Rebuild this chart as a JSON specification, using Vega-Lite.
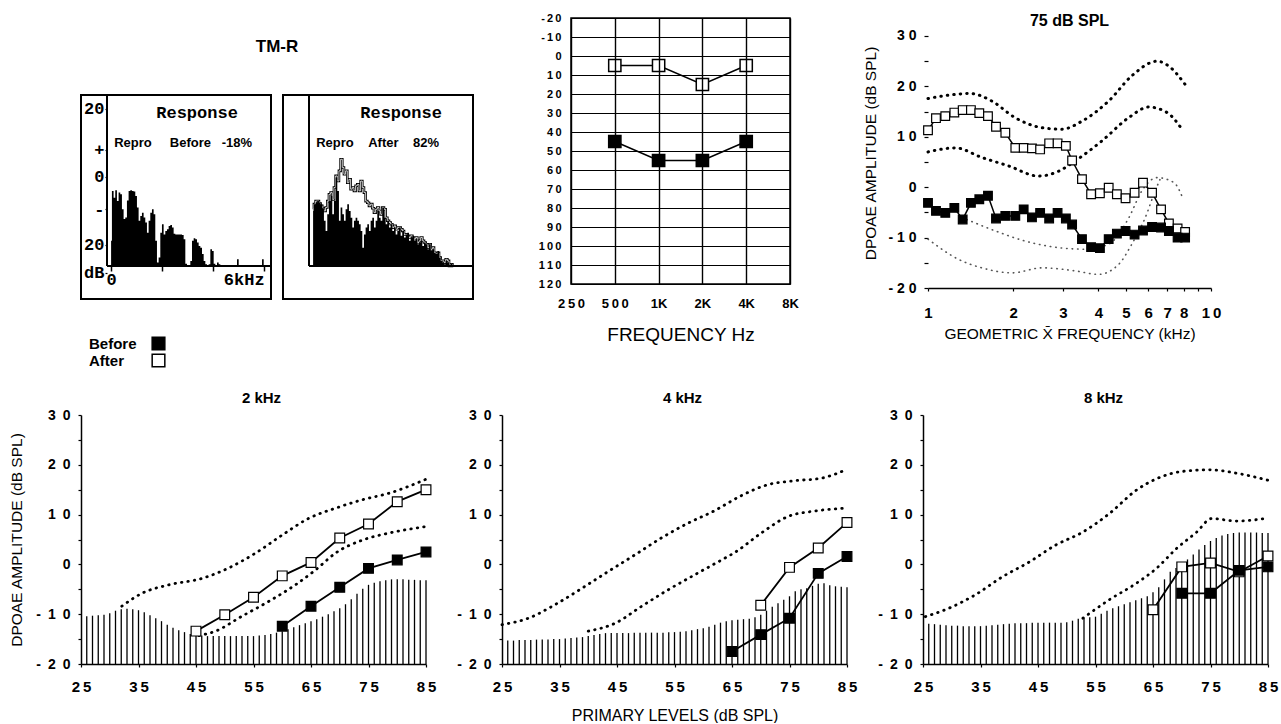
{
"$schema": "https://vega.github.io/schema/vega-lite/v6.json",
"background": "white",
"autosize": {"type": "pad"},
"padding": {"left": 9, "top": 11, "right": 2, "bottom": 0},
"config": {
 "font": "Liberation Sans",
 "view": {"stroke": null},
 "axis": {"labelFont": "Liberation Sans", "labelFontWeight": "bold", "labelColor": "black", "titleFont": "Liberation Sans", "titleFontWeight": "normal", "titleColor": "black", "domainColor": "black", "domainWidth": 1.5, "tickColor": "black", "tickWidth": 1.2, "grid": false, "labelFlush": false, "labelOverlap": false},
 "title": {"font": "Liberation Sans", "fontWeight": "bold", "color": "black", "anchor": "middle"},
 "legend": {"title": null, "orient": "none", "legendX": 70, "legendY": 318, "direction": "vertical", "symbolType": "square", "symbolSize": 160, "symbolStrokeColor": "black", "symbolStrokeWidth": 1.5, "labelOffset": -77, "labelAlign": "left", "labelFont": "Liberation Sans", "labelFontSize": 15, "labelFontWeight": "bold", "labelColor": "black", "rowPadding": -3, "padding": 0}
},
"datasets": {
 "histB": [
  {"f":0,"v":-18.8},{"f":0.065,"v":-4.1},{"f":0.131,"v":-6.1},{"f":0.196,"v":-3.9},{"f":0.262,"v":-7.1},{"f":0.327,"v":-4.6},{"f":0.392,"v":-5.1},{"f":0.458,"v":-9.5},{"f":0.523,"v":-12.4},{"f":0.589,"v":-11.9},{"f":0.654,"v":-6.9},{"f":0.719,"v":-4.1},{"f":0.785,"v":-3.9},{"f":0.85,"v":-4.1},{"f":0.916,"v":-4.3},{"f":0.981,"v":-5.6},{"f":1.046,"v":-9.0},{"f":1.112,"v":-12.9},{"f":1.177,"v":-11.5},{"f":1.243,"v":-10.5},{"f":1.308,"v":-11.9},{"f":1.373,"v":-13.4},{"f":1.439,"v":-16.4},{"f":1.504,"v":-12.9},{"f":1.57,"v":-10.5},{"f":1.635,"v":-9.5},{"f":1.7,"v":-11.0},{"f":1.766,"v":-18.8},{"f":1.831,"v":-25.2},{"f":1.897,"v":-23.7},{"f":1.962,"v":-16.4},{"f":2.027,"v":-13.9},{"f":2.093,"v":-16.9},{"f":2.158,"v":-15.9},{"f":2.224,"v":-15.4},{"f":2.289,"v":-14.4},{"f":2.354,"v":-14.1},{"f":2.42,"v":-14.9},{"f":2.485,"v":-16.7},{"f":2.551,"v":-16.9},{"f":2.616,"v":-16.9},{"f":2.681,"v":-16.9},{"f":2.747,"v":-16.9},{"f":2.812,"v":-17.1},{"f":2.878,"v":-18.3},{"f":2.943,"v":-25.5},{"f":3.008,"v":-25.9},{"f":3.074,"v":-25.9},{"f":3.139,"v":-24.7},{"f":3.205,"v":-18.8},{"f":3.27,"v":-18.0},{"f":3.335,"v":-18.3},{"f":3.401,"v":-19.3},{"f":3.466,"v":-20.3},{"f":3.532,"v":-20.8},{"f":3.597,"v":-22.7},{"f":3.662,"v":-24.7},{"f":3.728,"v":-25.7},{"f":3.793,"v":-25.9},{"f":3.859,"v":-25.7},{"f":3.924,"v":-21.3},{"f":3.989,"v":-21.8},{"f":4.055,"v":-25.5},{"f":4.12,"v":-25.9},{"f":4.186,"v":-25.2},{"f":4.251,"v":-25.7},{"f":4.316,"v":-26.2},{"f":4.905,"v":-26.2},{"f":4.97,"v":-24.2},{"f":5.036,"v":-26.2},{"f":5.886,"v":-26.2},{"f":5.951,"v":-24.2},{"f":6.016,"v":-26.2}
 ],
 "histA": [
  {"f":0,"n":-10.0,"r":-9.5},{"f":0.065,"n":-8.0,"r":-8.0},{"f":0.131,"n":-7.6,"r":-7.1},{"f":0.196,"n":-7.1,"r":-7.1},{"f":0.262,"n":-7.6,"r":-7.8},{"f":0.327,"n":-8.0,"r":-8.5},{"f":0.392,"n":-9.2,"r":-9.2},{"f":0.458,"n":-12.9,"r":-10.0},{"f":0.523,"n":-15.9,"r":-9.0},{"f":0.589,"n":-11.0,"r":-7.1},{"f":0.654,"n":-7.1,"r":-5.1},{"f":0.719,"n":-5.6,"r":-4.6},{"f":0.785,"n":-11.0,"r":-6.6},{"f":0.85,"n":-7.1,"r":-3.1},{"f":0.916,"n":-0.2,"r":0.3},{"f":0.981,"n":-4.1,"r":-1.2},{"f":1.046,"n":-12.9,"r":1.8},{"f":1.112,"n":-9.0,"r":5.2},{"f":1.177,"n":-11.0,"r":2.8},{"f":1.243,"n":-12.9,"r":0.8},{"f":1.308,"n":-9.5,"r":1.8},{"f":1.373,"n":-8.0,"r":-1.7},{"f":1.439,"n":-10.0,"r":-0.7},{"f":1.504,"n":-12.0,"r":-3.6},{"f":1.57,"n":-14.9,"r":-3.1},{"f":1.635,"n":-12.9,"r":-4.1},{"f":1.7,"n":-12.0,"r":-2.6},{"f":1.766,"n":-12.9,"r":-2.2},{"f":1.831,"n":-13.9,"r":-4.1},{"f":1.897,"n":-15.9,"r":-1.2},{"f":1.962,"n":-20.8,"r":-3.1},{"f":2.027,"n":-16.9,"r":-4.6},{"f":2.093,"n":-14.9,"r":-7.1},{"f":2.158,"n":-13.9,"r":-7.6},{"f":2.224,"n":-15.9,"r":-8.5},{"f":2.289,"n":-12.9,"r":-8.0},{"f":2.354,"n":-12.0,"r":-9.2},{"f":2.42,"n":-14.9,"r":-10.5},{"f":2.485,"n":-12.9,"r":-9.5},{"f":2.551,"n":-10.0,"r":-9.0},{"f":2.616,"n":-12.0,"r":-10.0},{"f":2.681,"n":-12.9,"r":-11.0},{"f":2.747,"n":-9.0,"r":-9.0},{"f":2.812,"n":-12.0,"r":-9.5},{"f":2.878,"n":-13.9,"r":-12.0},{"f":2.943,"n":-12.9,"r":-12.9},{"f":3.008,"n":-14.9,"r":-13.4},{"f":3.074,"n":-13.9,"r":-13.9},{"f":3.139,"n":-15.9,"r":-14.9},{"f":3.205,"n":-14.9,"r":-14.4},{"f":3.27,"n":-16.9,"r":-15.4},{"f":3.335,"n":-15.9,"r":-14.9},{"f":3.401,"n":-14.9,"r":-14.9},{"f":3.466,"n":-17.3,"r":-15.4},{"f":3.532,"n":-15.9,"r":-15.9},{"f":3.597,"n":-17.8,"r":-16.9},{"f":3.662,"n":-16.9,"r":-16.9},{"f":3.728,"n":-16.4,"r":-17.3},{"f":3.793,"n":-18.8,"r":-17.8},{"f":3.859,"n":-17.8,"r":-17.3},{"f":3.924,"n":-17.3,"r":-17.8},{"f":3.989,"n":-18.8,"r":-18.3},{"f":4.055,"n":-18.3,"r":-17.8},{"f":4.12,"n":-19.8,"r":-19.3},{"f":4.186,"n":-19.3,"r":-18.8},{"f":4.251,"n":-18.8,"r":-17.8},{"f":4.316,"n":-20.3,"r":-18.8},{"f":4.382,"n":-19.3,"r":-19.3},{"f":4.447,"n":-19.8,"r":-19.8},{"f":4.513,"n":-21.3,"r":-20.8},{"f":4.578,"n":-19.8,"r":-19.8},{"f":4.643,"n":-21.8,"r":-21.3},{"f":4.709,"n":-21.3,"r":-20.8},{"f":4.774,"n":-22.3,"r":-22.3},{"f":4.84,"n":-22.7,"r":-22.7},{"f":4.905,"n":-21.8,"r":-22.3},{"f":4.97,"n":-23.7,"r":-23.7},{"f":5.036,"n":-24.7,"r":-24.7},{"f":5.101,"n":-25.2,"r":-24.7},{"f":5.167,"n":-25.7,"r":-25.2},{"f":5.232,"n":-24.7,"r":-24.2},{"f":5.297,"n":-25.2,"r":-24.7},{"f":5.363,"n":-25.9,"r":-26.2},{"f":5.428,"n":-25.5,"r":-25.7},{"f":5.494,"n":-26.2,"r":-26.2}
 ],
 "audio": [
  {"hz":500,"v":5,"k":"After"},{"hz":1000,"v":5,"k":"After"},{"hz":2000,"v":15,"k":"After"},{"hz":4000,"v":5,"k":"After"},
  {"hz":500,"v":45,"k":"Before"},{"hz":1000,"v":55,"k":"Before"},{"hz":2000,"v":55,"k":"Before"},{"hz":4000,"v":45,"k":"Before"}
 ],
 "dp": [
  {"k":"After","f":1.0,"v":11.3},{"k":"After","f":1.067,"v":13.7},{"k":"After","f":1.151,"v":14.1},{"k":"After","f":1.239,"v":14.8},{"k":"After","f":1.326,"v":15.3},{"k":"After","f":1.418,"v":15.3},{"k":"After","f":1.518,"v":14.7},{"k":"After","f":1.629,"v":14.1},{"k":"After","f":1.739,"v":12.0},{"k":"After","f":1.876,"v":10.8},{"k":"After","f":2.035,"v":7.8},{"k":"After","f":2.178,"v":7.8},{"k":"After","f":2.33,"v":7.7},{"k":"After","f":2.49,"v":7.5},{"k":"After","f":2.68,"v":8.7},{"k":"After","f":2.87,"v":8.7},{"k":"After","f":3.07,"v":8.2},{"k":"After","f":3.23,"v":5.3},{"k":"After","f":3.5,"v":1.6},{"k":"After","f":3.77,"v":-1.4},{"k":"After","f":4.05,"v":-1.2},{"k":"After","f":4.35,"v":-0.1},{"k":"After","f":4.65,"v":-1.4},{"k":"After","f":4.99,"v":-2.2},{"k":"After","f":5.37,"v":-1.1},{"k":"After","f":5.75,"v":0.9},{"k":"After","f":6.19,"v":-1.1},{"k":"After","f":6.66,"v":-4.4},{"k":"After","f":7.1,"v":-7.2},{"k":"After","f":7.62,"v":-8.2},{"k":"After","f":8.1,"v":-8.9},
  {"k":"Before","f":1.0,"v":-3.1},{"k":"Before","f":1.067,"v":-4.7},{"k":"Before","f":1.151,"v":-5.1},{"k":"Before","f":1.239,"v":-4.1},{"k":"Before","f":1.326,"v":-6.4},{"k":"Before","f":1.418,"v":-3.1},{"k":"Before","f":1.518,"v":-2.4},{"k":"Before","f":1.629,"v":-1.7},{"k":"Before","f":1.739,"v":-6.2},{"k":"Before","f":1.876,"v":-5.7},{"k":"Before","f":2.035,"v":-5.7},{"k":"Before","f":2.178,"v":-4.4},{"k":"Before","f":2.33,"v":-6.0},{"k":"Before","f":2.49,"v":-5.1},{"k":"Before","f":2.68,"v":-6.2},{"k":"Before","f":2.87,"v":-5.1},{"k":"Before","f":3.07,"v":-6.2},{"k":"Before","f":3.23,"v":-7.4},{"k":"Before","f":3.5,"v":-10.3},{"k":"Before","f":3.77,"v":-11.9},{"k":"Before","f":4.05,"v":-12.1},{"k":"Before","f":4.35,"v":-10.3},{"k":"Before","f":4.65,"v":-9.2},{"k":"Before","f":4.99,"v":-8.7},{"k":"Before","f":5.37,"v":-9.4},{"k":"Before","f":5.75,"v":-8.6},{"k":"Before","f":6.19,"v":-7.9},{"k":"Before","f":6.66,"v":-8.0},{"k":"Before","f":7.1,"v":-8.7},{"k":"Before","f":7.62,"v":-10.0},{"k":"Before","f":8.1,"v":-10.0},
  {"k":"hi","f":1.0,"v":17.6},{"k":"hi","f":1.2,"v":18.3},{"k":"hi","f":1.41,"v":18.6},{"k":"hi","f":1.68,"v":17.1},{"k":"hi","f":2.03,"v":13.8},{"k":"hi","f":2.53,"v":11.8},{"k":"hi","f":2.97,"v":11.5},{"k":"hi","f":3.5,"v":13.1},{"k":"hi","f":4.35,"v":17.1},{"k":"hi","f":5.25,"v":22.1},{"k":"hi","f":6.45,"v":25.0},{"k":"hi","f":7.1,"v":24.0},{"k":"hi","f":8.1,"v":20.4},
  {"k":"lo","f":1.0,"v":7.0},{"k":"lo","f":1.25,"v":7.8},{"k":"lo","f":1.55,"v":5.9},{"k":"lo","f":1.93,"v":4.2},{"k":"lo","f":2.46,"v":2.2},{"k":"lo","f":2.9,"v":3.2},{"k":"lo","f":3.31,"v":5.2},{"k":"lo","f":4.12,"v":9.2},{"k":"lo","f":5.12,"v":13.8},{"k":"lo","f":6.02,"v":15.9},{"k":"lo","f":7.0,"v":14.8},{"k":"lo","f":7.9,"v":11.5},
  {"k":"nf1","f":1.37,"v":-6.4},{"k":"nf1","f":1.68,"v":-8.4},{"k":"nf1","f":2.21,"v":-10.7},{"k":"nf1","f":2.9,"v":-12.0},{"k":"nf1","f":3.59,"v":-12.3},{"k":"nf1","f":4.35,"v":-11.3},{"k":"nf1","f":5.12,"v":-6.1},{"k":"nf1","f":5.7,"v":-0.7},{"k":"nf1","f":6.45,"v":1.9},{"k":"nf1","f":7.4,"v":0.9},{"k":"nf1","f":7.98,"v":-2.4},
  {"k":"nf2","f":1.0,"v":-10.3},{"k":"nf2","f":1.28,"v":-14.3},{"k":"nf2","f":1.55,"v":-16.0},{"k":"nf2","f":1.98,"v":-17.0},{"k":"nf2","f":2.53,"v":-16.0},{"k":"nf2","f":3.31,"v":-16.6},{"k":"nf2","f":4.0,"v":-17.3},{"k":"nf2","f":4.72,"v":-15.3},{"k":"nf2","f":5.25,"v":-11.3},{"k":"nf2","f":5.85,"v":-6.1},{"k":"nf2","f":6.35,"v":-0.7},{"k":"nf2","f":6.6,"v":1.5}
 ],
 "grow": [
  {"p":"2","k":"nf","L":26,"v":-10.4},{"p":"2","k":"nf","L":27,"v":-10.3},{"p":"2","k":"nf","L":28,"v":-10.2},{"p":"2","k":"nf","L":29,"v":-10.1},{"p":"2","k":"nf","L":30,"v":-9.8},{"p":"2","k":"nf","L":31,"v":-9.3},{"p":"2","k":"nf","L":32,"v":-9.0},{"p":"2","k":"nf","L":33,"v":-8.9},{"p":"2","k":"nf","L":34,"v":-9.0},{"p":"2","k":"nf","L":35,"v":-9.2},{"p":"2","k":"nf","L":36,"v":-9.6},{"p":"2","k":"nf","L":37,"v":-10.2},{"p":"2","k":"nf","L":38,"v":-10.8},{"p":"2","k":"nf","L":39,"v":-11.4},{"p":"2","k":"nf","L":40,"v":-12.1},{"p":"2","k":"nf","L":41,"v":-12.7},{"p":"2","k":"nf","L":42,"v":-13.2},{"p":"2","k":"nf","L":43,"v":-13.6},{"p":"2","k":"nf","L":44,"v":-14.0},{"p":"2","k":"nf","L":45,"v":-14.2},{"p":"2","k":"nf","L":46,"v":-14.3},{"p":"2","k":"nf","L":47,"v":-14.4},{"p":"2","k":"nf","L":48,"v":-14.4},{"p":"2","k":"nf","L":49,"v":-14.4},{"p":"2","k":"nf","L":50,"v":-14.4},{"p":"2","k":"nf","L":51,"v":-14.4},{"p":"2","k":"nf","L":52,"v":-14.4},{"p":"2","k":"nf","L":53,"v":-14.4},{"p":"2","k":"nf","L":54,"v":-14.4},{"p":"2","k":"nf","L":55,"v":-14.4},{"p":"2","k":"nf","L":56,"v":-14.3},{"p":"2","k":"nf","L":57,"v":-14.2},{"p":"2","k":"nf","L":58,"v":-14.0},{"p":"2","k":"nf","L":59,"v":-13.7},{"p":"2","k":"nf","L":60,"v":-13.4},{"p":"2","k":"nf","L":61,"v":-13.0},{"p":"2","k":"nf","L":62,"v":-12.6},{"p":"2","k":"nf","L":63,"v":-12.2},{"p":"2","k":"nf","L":64,"v":-11.8},{"p":"2","k":"nf","L":65,"v":-11.4},{"p":"2","k":"nf","L":66,"v":-11.0},{"p":"2","k":"nf","L":67,"v":-10.5},{"p":"2","k":"nf","L":68,"v":-10.0},{"p":"2","k":"nf","L":69,"v":-9.4},{"p":"2","k":"nf","L":70,"v":-8.8},{"p":"2","k":"nf","L":71,"v":-8.0},{"p":"2","k":"nf","L":72,"v":-7.0},{"p":"2","k":"nf","L":73,"v":-5.9},{"p":"2","k":"nf","L":74,"v":-4.9},{"p":"2","k":"nf","L":75,"v":-4.1},{"p":"2","k":"nf","L":76,"v":-3.7},{"p":"2","k":"nf","L":77,"v":-3.4},{"p":"2","k":"nf","L":78,"v":-3.2},{"p":"2","k":"nf","L":79,"v":-3.0},{"p":"2","k":"nf","L":80,"v":-3.0},{"p":"2","k":"nf","L":81,"v":-3.0},{"p":"2","k":"nf","L":82,"v":-3.1},{"p":"2","k":"nf","L":83,"v":-3.1},{"p":"2","k":"nf","L":84,"v":-3.2},{"p":"2","k":"nf","L":85,"v":-3.2},
  {"p":"2","k":"hi","L":32.1,"v":-8.4},{"p":"2","k":"hi","L":35.6,"v":-5.8},{"p":"2","k":"hi","L":40.3,"v":-4.1},{"p":"2","k":"hi","L":46.1,"v":-2.8},{"p":"2","k":"hi","L":50.7,"v":-0.7},{"p":"2","k":"hi","L":55.4,"v":2.3},{"p":"2","k":"hi","L":60,"v":5.9},{"p":"2","k":"hi","L":64.7,"v":9.3},{"p":"2","k":"hi","L":69.3,"v":11.3},{"p":"2","k":"hi","L":74,"v":13.0},{"p":"2","k":"hi","L":78.6,"v":14.3},{"p":"2","k":"hi","L":85,"v":17.1},
  {"p":"2","k":"lo","L":45.5,"v":-14.3},{"p":"2","k":"lo","L":48.4,"v":-13.4},{"p":"2","k":"lo","L":53,"v":-10.4},{"p":"2","k":"lo","L":57.7,"v":-7.4},{"p":"2","k":"lo","L":62.3,"v":-4.1},{"p":"2","k":"lo","L":65.8,"v":-1.1},{"p":"2","k":"lo","L":69.3,"v":2.3},{"p":"2","k":"lo","L":74,"v":4.9},{"p":"2","k":"lo","L":78.6,"v":6.3},{"p":"2","k":"lo","L":85,"v":7.6},
  {"p":"2","k":"After","L":45,"v":-13.4},{"p":"2","k":"After","L":50,"v":-10.1},{"p":"2","k":"After","L":55,"v":-6.6},{"p":"2","k":"After","L":60,"v":-2.3},{"p":"2","k":"After","L":65,"v":0.4},{"p":"2","k":"After","L":70,"v":5.3},{"p":"2","k":"After","L":75,"v":8.1},{"p":"2","k":"After","L":80,"v":12.6},{"p":"2","k":"After","L":85,"v":15.0},
  {"p":"2","k":"Before","L":60,"v":-12.4},{"p":"2","k":"Before","L":65,"v":-8.4},{"p":"2","k":"Before","L":70,"v":-4.6},{"p":"2","k":"Before","L":75,"v":-0.8},{"p":"2","k":"Before","L":80,"v":0.9},{"p":"2","k":"Before","L":85,"v":2.5},
  {"p":"4","k":"nf","L":26,"v":-15.3},{"p":"4","k":"nf","L":27,"v":-15.3},{"p":"4","k":"nf","L":28,"v":-15.2},{"p":"4","k":"nf","L":29,"v":-15.2},{"p":"4","k":"nf","L":30,"v":-15.2},{"p":"4","k":"nf","L":31,"v":-15.1},{"p":"4","k":"nf","L":32,"v":-15.1},{"p":"4","k":"nf","L":33,"v":-15.1},{"p":"4","k":"nf","L":34,"v":-15.0},{"p":"4","k":"nf","L":35,"v":-15.0},{"p":"4","k":"nf","L":36,"v":-14.9},{"p":"4","k":"nf","L":37,"v":-14.8},{"p":"4","k":"nf","L":38,"v":-14.7},{"p":"4","k":"nf","L":39,"v":-14.6},{"p":"4","k":"nf","L":40,"v":-14.4},{"p":"4","k":"nf","L":41,"v":-14.2},{"p":"4","k":"nf","L":42,"v":-14.0},{"p":"4","k":"nf","L":43,"v":-13.8},{"p":"4","k":"nf","L":44,"v":-13.8},{"p":"4","k":"nf","L":45,"v":-13.8},{"p":"4","k":"nf","L":46,"v":-13.8},{"p":"4","k":"nf","L":47,"v":-13.8},{"p":"4","k":"nf","L":48,"v":-13.7},{"p":"4","k":"nf","L":49,"v":-13.7},{"p":"4","k":"nf","L":50,"v":-13.7},{"p":"4","k":"nf","L":51,"v":-13.7},{"p":"4","k":"nf","L":52,"v":-13.7},{"p":"4","k":"nf","L":53,"v":-13.7},{"p":"4","k":"nf","L":54,"v":-13.6},{"p":"4","k":"nf","L":55,"v":-13.6},{"p":"4","k":"nf","L":56,"v":-13.5},{"p":"4","k":"nf","L":57,"v":-13.4},{"p":"4","k":"nf","L":58,"v":-13.2},{"p":"4","k":"nf","L":59,"v":-13.0},{"p":"4","k":"nf","L":60,"v":-12.8},{"p":"4","k":"nf","L":61,"v":-12.5},{"p":"4","k":"nf","L":62,"v":-12.1},{"p":"4","k":"nf","L":63,"v":-11.7},{"p":"4","k":"nf","L":64,"v":-11.4},{"p":"4","k":"nf","L":65,"v":-11.2},{"p":"4","k":"nf","L":66,"v":-11.1},{"p":"4","k":"nf","L":67,"v":-11.0},{"p":"4","k":"nf","L":68,"v":-10.9},{"p":"4","k":"nf","L":69,"v":-10.6},{"p":"4","k":"nf","L":70,"v":-10.1},{"p":"4","k":"nf","L":71,"v":-9.3},{"p":"4","k":"nf","L":72,"v":-8.5},{"p":"4","k":"nf","L":73,"v":-7.8},{"p":"4","k":"nf","L":74,"v":-7.1},{"p":"4","k":"nf","L":75,"v":-6.4},{"p":"4","k":"nf","L":76,"v":-5.4},{"p":"4","k":"nf","L":77,"v":-5.0},{"p":"4","k":"nf","L":78,"v":-4.8},{"p":"4","k":"nf","L":79,"v":-4.3},{"p":"4","k":"nf","L":80,"v":-3.9},{"p":"4","k":"nf","L":81,"v":-3.8},{"p":"4","k":"nf","L":82,"v":-4.2},{"p":"4","k":"nf","L":83,"v":-4.4},{"p":"4","k":"nf","L":84,"v":-4.5},{"p":"4","k":"nf","L":85,"v":-4.6},
  {"p":"4","k":"hi","L":25,"v":-12.1},{"p":"4","k":"hi","L":29.6,"v":-10.8},{"p":"4","k":"hi","L":34.2,"v":-8.1},{"p":"4","k":"hi","L":38.9,"v":-4.8},{"p":"4","k":"hi","L":43.5,"v":-1.4},{"p":"4","k":"hi","L":48.1,"v":1.9},{"p":"4","k":"hi","L":52.7,"v":5.3},{"p":"4","k":"hi","L":57.4,"v":8.3},{"p":"4","k":"hi","L":62,"v":10.8},{"p":"4","k":"hi","L":66.6,"v":13.8},{"p":"4","k":"hi","L":71.2,"v":16.0},{"p":"4","k":"hi","L":75.9,"v":16.8},{"p":"4","k":"hi","L":80.5,"v":17.3},{"p":"4","k":"hi","L":85,"v":19.1},
  {"p":"4","k":"lo","L":40,"v":-13.4},{"p":"4","k":"lo","L":44.7,"v":-11.8},{"p":"4","k":"lo","L":49.3,"v":-8.4},{"p":"4","k":"lo","L":53.9,"v":-5.1},{"p":"4","k":"lo","L":58.5,"v":-2.1},{"p":"4","k":"lo","L":63.2,"v":0.9},{"p":"4","k":"lo","L":65.5,"v":2.4},{"p":"4","k":"lo","L":70.1,"v":6.3},{"p":"4","k":"lo","L":74.7,"v":9.6},{"p":"4","k":"lo","L":79.3,"v":10.7},{"p":"4","k":"lo","L":85,"v":11.3},
  {"p":"4","k":"After","L":70,"v":-8.2},{"p":"4","k":"After","L":75,"v":-0.6},{"p":"4","k":"After","L":80,"v":3.3},{"p":"4","k":"After","L":85,"v":8.4},
  {"p":"4","k":"Before","L":65,"v":-17.5},{"p":"4","k":"Before","L":70,"v":-14.1},{"p":"4","k":"Before","L":75,"v":-10.8},{"p":"4","k":"Before","L":80,"v":-1.8},{"p":"4","k":"Before","L":85,"v":1.6},
  {"p":"8","k":"nf","L":26,"v":-11.9},{"p":"8","k":"nf","L":27,"v":-12.0},{"p":"8","k":"nf","L":28,"v":-12.1},{"p":"8","k":"nf","L":29,"v":-12.2},{"p":"8","k":"nf","L":30,"v":-12.3},{"p":"8","k":"nf","L":31,"v":-12.3},{"p":"8","k":"nf","L":32,"v":-12.4},{"p":"8","k":"nf","L":33,"v":-12.4},{"p":"8","k":"nf","L":34,"v":-12.4},{"p":"8","k":"nf","L":35,"v":-12.4},{"p":"8","k":"nf","L":36,"v":-12.3},{"p":"8","k":"nf","L":37,"v":-12.2},{"p":"8","k":"nf","L":38,"v":-12.1},{"p":"8","k":"nf","L":39,"v":-12.0},{"p":"8","k":"nf","L":40,"v":-11.9},{"p":"8","k":"nf","L":41,"v":-11.8},{"p":"8","k":"nf","L":42,"v":-11.8},{"p":"8","k":"nf","L":43,"v":-11.8},{"p":"8","k":"nf","L":44,"v":-11.7},{"p":"8","k":"nf","L":45,"v":-11.7},{"p":"8","k":"nf","L":46,"v":-11.7},{"p":"8","k":"nf","L":47,"v":-11.7},{"p":"8","k":"nf","L":48,"v":-11.7},{"p":"8","k":"nf","L":49,"v":-11.7},{"p":"8","k":"nf","L":50,"v":-11.6},{"p":"8","k":"nf","L":51,"v":-11.3},{"p":"8","k":"nf","L":52,"v":-10.9},{"p":"8","k":"nf","L":53,"v":-10.7},{"p":"8","k":"nf","L":54,"v":-10.6},{"p":"8","k":"nf","L":55,"v":-10.5},{"p":"8","k":"nf","L":56,"v":-9.9},{"p":"8","k":"nf","L":57,"v":-9.3},{"p":"8","k":"nf","L":58,"v":-8.8},{"p":"8","k":"nf","L":59,"v":-8.4},{"p":"8","k":"nf","L":60,"v":-8.0},{"p":"8","k":"nf","L":61,"v":-7.6},{"p":"8","k":"nf","L":62,"v":-7.2},{"p":"8","k":"nf","L":63,"v":-6.8},{"p":"8","k":"nf","L":64,"v":-6.4},{"p":"8","k":"nf","L":65,"v":-5.6},{"p":"8","k":"nf","L":66,"v":-4.6},{"p":"8","k":"nf","L":67,"v":-3.0},{"p":"8","k":"nf","L":68,"v":-1.5},{"p":"8","k":"nf","L":69,"v":-0.7},{"p":"8","k":"nf","L":70,"v":0.0},{"p":"8","k":"nf","L":71,"v":1.0},{"p":"8","k":"nf","L":72,"v":2.0},{"p":"8","k":"nf","L":73,"v":3.0},{"p":"8","k":"nf","L":74,"v":3.9},{"p":"8","k":"nf","L":75,"v":4.7},{"p":"8","k":"nf","L":76,"v":5.3},{"p":"8","k":"nf","L":77,"v":5.8},{"p":"8","k":"nf","L":78,"v":6.1},{"p":"8","k":"nf","L":79,"v":6.3},{"p":"8","k":"nf","L":80,"v":6.4},{"p":"8","k":"nf","L":81,"v":6.4},{"p":"8","k":"nf","L":82,"v":6.4},{"p":"8","k":"nf","L":83,"v":6.4},{"p":"8","k":"nf","L":84,"v":6.3},{"p":"8","k":"nf","L":85,"v":6.3},
  {"p":"8","k":"hi","L":25.4,"v":-10.5},{"p":"8","k":"hi","L":29.5,"v":-8.8},{"p":"8","k":"hi","L":34.1,"v":-6.1},{"p":"8","k":"hi","L":38.8,"v":-2.5},{"p":"8","k":"hi","L":43.5,"v":0.5},{"p":"8","k":"hi","L":48.1,"v":3.9},{"p":"8","k":"hi","L":52.8,"v":6.5},{"p":"8","k":"hi","L":57.4,"v":10.2},{"p":"8","k":"hi","L":62.1,"v":14.9},{"p":"8","k":"hi","L":65.6,"v":17.2},{"p":"8","k":"hi","L":70.3,"v":18.7},{"p":"8","k":"hi","L":74.9,"v":19.0},{"p":"8","k":"hi","L":79.6,"v":18.3},{"p":"8","k":"hi","L":85,"v":16.9},
  {"p":"8","k":"lo","L":52.8,"v":-10.8},{"p":"8","k":"lo","L":57.4,"v":-7.1},{"p":"8","k":"lo","L":62.1,"v":-3.8},{"p":"8","k":"lo","L":65.6,"v":-0.8},{"p":"8","k":"lo","L":69.1,"v":3.2},{"p":"8","k":"lo","L":72.6,"v":6.5},{"p":"8","k":"lo","L":75.2,"v":9.2},{"p":"8","k":"lo","L":79.6,"v":8.7},{"p":"8","k":"lo","L":85,"v":9.3},
  {"p":"8","k":"After","L":65,"v":-9.1},{"p":"8","k":"After","L":70,"v":-0.5},{"p":"8","k":"After","L":75,"v":0.3},{"p":"8","k":"After","L":80,"v":-1.5},{"p":"8","k":"After","L":85,"v":1.7},
  {"p":"8","k":"Before","L":70,"v":-5.8},{"p":"8","k":"Before","L":75,"v":-5.8},{"p":"8","k":"Before","L":80,"v":-1.2},{"p":"8","k":"Before","L":85,"v":-0.5}
 ]
},
"spacing": 46,
"vconcat": [
 {"spacing": 63, "hconcat": [
  {"title": {"text": "TM-R", "fontSize": 17, "offset": -38},
   "spacing": 10,
   "hconcat": [
    {"width": 190, "height": 281,
     "data": {"name": "histB"},
     "layer": [
      {"mark": {"type": "area", "interpolate": "step", "color": "black"},
       "encoding": {
        "x": {"field": "f", "type": "quantitative", "scale": {"domain": [-1.18, 6.27], "nice": false, "zero": false},
              "axis": {"orient": "bottom", "offset": -33, "values": [0,0.5,1,1.5,2,2.5,3,3.5,4,4.5,5,5.5,6], "labelExpr": "datum.value==0?'0':datum.value==6?'6kHz':''", "domain": false, "tickSize": 5, "tickWidth": 1.5, "labelPadding": 0, "labelFont": "Liberation Mono", "labelFontSize": 17, "labelFontWeight": "bold", "labelAlign": {"condition": {"test": "datum.value==6", "value": "right"}, "value": "center"}, "title": null}},
        "y": {"field": "v", "type": "quantitative", "scale": {"domain": [-35.9, 46.75], "nice": false, "zero": false},
              "axis": {"orient": "left", "offset": -26, "values": [20, 8, 0, -9.5, -20, -28.2], "labelExpr": "datum.value==8?'+':datum.value==-9.5?'-':datum.value==-28.2?'dB':datum.value==0?'0':'20'", "domain": false, "tickSize": 2, "labelPadding": 1, "labelFont": "Liberation Mono", "labelFontSize": 17, "labelFontWeight": "bold", "labelBaseline": "middle", "title": null}},
        "y2": {"datum": -26.2}}},
      {"data": {"values": [{}]}, "mark": {"type": "rect", "filled": false, "color": "black", "strokeWidth": 2}, "encoding": {"x": {"datum": -1.18}, "x2": {"datum": 6.27}, "y": {"datum": 24.1}, "y2": {"datum": -35.9}}},
      {"data": {"values": [{}]}, "mark": {"type": "rule", "color": "black", "strokeWidth": 2}, "encoding": {"x": {"datum": -0.16}, "y": {"datum": 24.1}, "y2": {"datum": -26.2}}},
      {"data": {"values": [{}]}, "mark": {"type": "rule", "color": "black", "strokeWidth": 2}, "encoding": {"x": {"datum": -0.16}, "x2": {"datum": 6.27}, "y": {"datum": -26.2}}},
      {"data": {"values": [{}]}, "mark": {"type": "text", "text": "Response", "font": "Liberation Mono", "fontSize": 17, "fontWeight": "bold", "align": "center", "baseline": "middle", "color": "black"}, "encoding": {"x": {"datum": 3.37}, "y": {"datum": 18.8}}},
      {"data": {"values": [{}]}, "mark": {"type": "text", "text": "Repro\u00a0\u00a0\u00a0\u00a0\u00a0Before\u00a0\u00a0\u00a0-18%", "fontSize": 13, "fontWeight": "bold", "align": "left", "baseline": "middle", "color": "black"}, "encoding": {"x": {"datum": 0.12}, "y": {"datum": 10}}}
     ]},
    {"width": 190, "height": 281,
     "data": {"name": "histA"},
     "layer": [
      {"mark": {"type": "line", "interpolate": "step", "color": "black", "strokeWidth": 2.6},
       "encoding": {
        "x": {"field": "f", "type": "quantitative", "scale": {"domain": [-1.18, 6.27], "nice": false, "zero": false},
              "axis": {"orient": "bottom", "offset": -33, "values": [0,0.5,1,1.5,2,2.5,3,3.5,4,4.5,5,5.5,6], "labelExpr": "datum.value==0?'0':datum.value==6?'6kHz':''", "domain": false, "tickSize": 5, "tickWidth": 1.5, "labelPadding": 0, "labelFont": "Liberation Mono", "labelFontSize": 17, "labelFontWeight": "bold", "labelAlign": {"condition": {"test": "datum.value==6", "value": "right"}, "value": "center"}, "title": null}},
        "y": {"field": "r", "type": "quantitative", "scale": {"domain": [-35.9, 46.75], "nice": false, "zero": false},
              "axis": {"orient": "left", "offset": -26, "values": [20, 8, 0, -9.5, -20, -28.2], "labelExpr": "datum.value==8?'+':datum.value==-9.5?'-':datum.value==-28.2?'dB':datum.value==0?'0':'20'", "domain": false, "tickSize": 2, "labelPadding": 1, "labelFont": "Liberation Mono", "labelFontSize": 17, "labelFontWeight": "bold", "labelBaseline": "middle", "title": null}}}},
      {"mark": {"type": "line", "interpolate": "step", "color": "white", "strokeWidth": 0.8},
       "encoding": {"x": {"field": "f", "type": "quantitative", "axis": null}, "y": {"field": "r", "type": "quantitative", "axis": null}}},
      {"mark": {"type": "area", "interpolate": "step", "color": "black"},
       "encoding": {"x": {"field": "f", "type": "quantitative", "axis": null}, "y": {"field": "n", "type": "quantitative", "axis": null}, "y2": {"datum": -26.2}}},
      {"data": {"values": [{}]}, "mark": {"type": "rect", "filled": false, "color": "black", "strokeWidth": 2}, "encoding": {"x": {"datum": -1.18}, "x2": {"datum": 6.27}, "y": {"datum": 24.1}, "y2": {"datum": -35.9}}},
      {"data": {"values": [{}]}, "mark": {"type": "rule", "color": "black", "strokeWidth": 2}, "encoding": {"x": {"datum": -0.16}, "y": {"datum": 24.1}, "y2": {"datum": -26.2}}},
      {"data": {"values": [{}]}, "mark": {"type": "rule", "color": "black", "strokeWidth": 2}, "encoding": {"x": {"datum": -0.16}, "x2": {"datum": 6.27}, "y": {"datum": -26.2}}},
      {"data": {"values": [{}]}, "mark": {"type": "text", "text": "Response", "font": "Liberation Mono", "fontSize": 17, "fontWeight": "bold", "align": "center", "baseline": "middle", "color": "black"}, "encoding": {"x": {"datum": 3.45}, "y": {"datum": 18.8}}},
      {"data": {"values": [{}]}, "mark": {"type": "text", "text": "Repro\u00a0\u00a0\u00a0\u00a0After\u00a0\u00a0\u00a0\u00a082%", "fontSize": 13, "fontWeight": "bold", "align": "left", "baseline": "middle", "color": "black"}, "encoding": {"x": {"datum": 0.12}, "y": {"datum": 10}}}
     ]}
   ]},
  {"width": 219, "height": 266,
   "view": {"stroke": "black", "strokeWidth": 1.5},
   "data": {"name": "audio"},
   "encoding": {
    "x": {"field": "hz", "type": "quantitative", "scale": {"type": "log", "base": 2, "domain": [250, 8000], "nice": false},
          "axis": {"values": [250,500,1000,2000,4000,8000], "grid": true, "gridColor": "black", "gridWidth": 1.4, "ticks": false, "domain": false, "labelPadding": 13, "labelFontSize": 13, "labelExpr": "datum.value>=1000?(datum.value/1000)+'K':join(split(''+datum.value,''),'\u2009')", "title": "FREQUENCY Hz", "titleFontSize": 19, "titlePadding": 15, "zindex": 1}},
    "y": {"field": "v", "type": "quantitative", "scale": {"domain": [-20, 120], "reverse": true, "nice": false, "zero": false},
          "axis": {"values": [-20,-10,0,10,20,30,40,50,60,70,80,90,100,110,120], "grid": true, "gridColor": "black", "gridWidth": 1, "ticks": false, "domain": false, "labelPadding": 10, "labelFontSize": 11, "labelExpr": "join(split((datum.value<0?'-':'')+abs(datum.value),''),'\u2009')", "title": null, "zindex": 1}}
   },
   "layer": [
    {"data": {"values": [{}]}, "mark": {"type": "rect", "color": "#c3c3c3"}, "encoding": {"x": {"datum": 250}, "x2": {"datum": 8000}, "y": {"datum": -10}, "y2": {"datum": 10}}},
    {"mark": {"type": "line", "color": "black", "strokeWidth": 1.6}, "encoding": {"detail": {"field": "k"}}},
    {"mark": {"type": "square", "size": 150, "filled": true, "stroke": "black", "strokeWidth": 1.5, "opacity": 1},
     "encoding": {"fill": {"field": "k", "type": "nominal", "scale": {"domain": ["Before","After"], "range": ["black","white"]}}}}
   ]},
  {"width": 283, "height": 270,
   "title": {"text": "75 dB SPL", "fontSize": 16, "offset": -11},
   "data": {"name": "dp"},
   "encoding": {
    "x": {"field": "f", "type": "quantitative", "scale": {"type": "log", "domain": [1, 10], "nice": false},
          "axis": {"values": [1,2,3,4,5,6,7,8,9,10], "labelExpr": "datum.value==9?'':join(split(''+datum.value,''),'\u2009')", "tickSize": 3, "labelPadding": 14, "labelFontSize": 15, "title": "GEOMETRIC X\u0304 FREQUENCY (kHz)", "titleFontSize": 15.5, "titlePadding": 6}},
    "y": {"field": "v", "type": "quantitative", "scale": {"domain": [-20, 33.57], "nice": false, "zero": false},
          "axis": {"values": [-20,-15,-10,-5,0,5,10,15,20,25,30], "domain": false, "labelExpr": "datum.value%10==0?join(split((datum.value<0?'-':'')+abs(datum.value),''),' '):''", "tickSize": 4, "labelPadding": 8, "labelFontSize": 14, "title": "DPOAE AMPLITUDE (dB SPL)", "titleFontSize": 15.5, "titlePadding": 9}}
   },
   "layer": [
    {"data": {"values": [{}]}, "mark": {"type": "rule", "color": "black", "strokeWidth": 1.5}, "encoding": {"x": {"datum": 1}, "y": {"datum": -20}, "y2": {"datum": 30}}},
    {"transform": [{"filter": "datum.k=='nf1'||datum.k=='nf2'"}], "mark": {"type": "line", "color": "#555555", "strokeWidth": 1.6, "strokeDash": [0.5, 5], "strokeCap": "round", "interpolate": "monotone"}, "encoding": {"detail": {"field": "k"}}},
    {"transform": [{"filter": "datum.k=='hi'||datum.k=='lo'"}], "mark": {"type": "line", "color": "black", "strokeWidth": 3, "strokeDash": [0.5, 6], "strokeCap": "round", "interpolate": "monotone"}, "encoding": {"detail": {"field": "k"}}},
    {"transform": [{"filter": "datum.k=='Before'||datum.k=='After'"}], "mark": {"type": "line", "color": "black", "strokeWidth": 1.5}, "encoding": {"detail": {"field": "k"}}},
    {"transform": [{"filter": "datum.k=='Before'||datum.k=='After'"}], "mark": {"type": "square", "size": 75, "filled": true, "stroke": "black", "strokeWidth": 1.2, "opacity": 1},
     "encoding": {"fill": {"field": "k", "type": "nominal", "scale": {"domain": ["Before","After"], "range": ["black","white"]}}}}
   ]}
 ]},
 {"spacing": 76, "bounds": "flush", "hconcat": [
  {"width": 345, "height": 249,
   "title": {"text": "2 kHz", "fontSize": 15, "offset": 2, "dx": 8},
   "data": {"name": "grow"},
   "transform": [{"filter": "datum.p=='2'"}],
   "encoding": {
    "x": {"field": "L", "type": "quantitative", "scale": {"domain": [25, 85], "nice": false, "zero": false},
          "axis": {"values": [25,35,45,55,65,75,85], "labelExpr": "join(split(''+datum.value,''),'\u2009')", "tickSize": 3, "labelPadding": 12, "labelFontSize": 15, "title": null}},
    "y": {"field": "v", "type": "quantitative", "scale": {"domain": [-20, 30], "nice": false, "zero": false},
          "axis": {"values": [-20,-15,-10,-5,0,5,10,15,20,25,30], "labelExpr": "datum.value%10==0?join(split((datum.value<0?'-':'')+abs(datum.value),''),'\u2002'):''", "tickSize": 3, "labelPadding": 8, "labelFontSize": 14, "title": "DPOAE AMPLITUDE (dB SPL)", "titleFontSize": 15.5, "titlePadding": 11}}
   },
   "layer": [
    {"transform": [{"filter": "datum.k=='nf'"}], "mark": {"type": "rule", "color": "black", "strokeWidth": 1.3}, "encoding": {"y2": {"datum": -20}}},
    {"transform": [{"filter": "datum.k=='hi'||datum.k=='lo'"}], "mark": {"type": "line", "color": "black", "strokeWidth": 2.8, "strokeDash": [0.5, 6], "strokeCap": "round", "interpolate": "monotone"}, "encoding": {"detail": {"field": "k"}}},
    {"transform": [{"filter": "datum.k=='Before'||datum.k=='After'"}], "mark": {"type": "line", "color": "black", "strokeWidth": 1.8}, "encoding": {"detail": {"field": "k"}}},
    {"transform": [{"filter": "datum.k=='Before'||datum.k=='After'"}], "mark": {"type": "square", "size": 95, "filled": true, "stroke": "black", "strokeWidth": 1.2, "opacity": 1},
     "encoding": {"fill": {"field": "k", "type": "nominal", "scale": {"domain": ["Before","After"], "range": ["black","white"]}}}}
   ]},
  {"width": 345, "height": 249,
   "title": {"text": "4 kHz", "fontSize": 15, "offset": 2, "dx": 8},
   "data": {"name": "grow"},
   "transform": [{"filter": "datum.p=='4'"}],
   "encoding": {
    "x": {"field": "L", "type": "quantitative", "scale": {"domain": [25, 85], "nice": false, "zero": false},
          "axis": {"values": [25,35,45,55,65,75,85], "labelExpr": "join(split(''+datum.value,''),'\u2009')", "tickSize": 3, "labelPadding": 12, "labelFontSize": 15, "title": "PRIMARY LEVELS (dB SPL)", "titleFontSize": 16, "titlePadding": 13}},
    "y": {"field": "v", "type": "quantitative", "scale": {"domain": [-20, 30], "nice": false, "zero": false},
          "axis": {"values": [-20,-15,-10,-5,0,5,10,15,20,25,30], "labelExpr": "datum.value%10==0?join(split((datum.value<0?'-':'')+abs(datum.value),''),'\u2002'):''", "tickSize": 3, "labelPadding": 8, "labelFontSize": 14, "title": null}}
   },
   "layer": [
    {"transform": [{"filter": "datum.k=='nf'"}], "mark": {"type": "rule", "color": "black", "strokeWidth": 1.3}, "encoding": {"y2": {"datum": -20}}},
    {"transform": [{"filter": "datum.k=='hi'||datum.k=='lo'"}], "mark": {"type": "line", "color": "black", "strokeWidth": 2.8, "strokeDash": [0.5, 6], "strokeCap": "round", "interpolate": "monotone"}, "encoding": {"detail": {"field": "k"}}},
    {"transform": [{"filter": "datum.k=='Before'||datum.k=='After'"}], "mark": {"type": "line", "color": "black", "strokeWidth": 1.8}, "encoding": {"detail": {"field": "k"}}},
    {"transform": [{"filter": "datum.k=='Before'||datum.k=='After'"}], "mark": {"type": "square", "size": 95, "filled": true, "stroke": "black", "strokeWidth": 1.2, "opacity": 1},
     "encoding": {"fill": {"field": "k", "type": "nominal", "scale": {"domain": ["Before","After"], "range": ["black","white"]}}}}
   ]},
  {"width": 345, "height": 249,
   "title": {"text": "8 kHz", "fontSize": 15, "offset": 2, "dx": 8},
   "data": {"name": "grow"},
   "transform": [{"filter": "datum.p=='8'"}],
   "encoding": {
    "x": {"field": "L", "type": "quantitative", "scale": {"domain": [25, 85], "nice": false, "zero": false},
          "axis": {"values": [25,35,45,55,65,75,85], "labelExpr": "join(split(''+datum.value,''),'\u2009')", "tickSize": 3, "labelPadding": 12, "labelFontSize": 15, "title": null}},
    "y": {"field": "v", "type": "quantitative", "scale": {"domain": [-20, 30], "nice": false, "zero": false},
          "axis": {"values": [-20,-15,-10,-5,0,5,10,15,20,25,30], "labelExpr": "datum.value%10==0?join(split((datum.value<0?'-':'')+abs(datum.value),''),'\u2002'):''", "tickSize": 3, "labelPadding": 8, "labelFontSize": 14, "title": null}}
   },
   "layer": [
    {"transform": [{"filter": "datum.k=='nf'"}], "mark": {"type": "rule", "color": "black", "strokeWidth": 1.3}, "encoding": {"y2": {"datum": -20}}},
    {"transform": [{"filter": "datum.k=='hi'||datum.k=='lo'"}], "mark": {"type": "line", "color": "black", "strokeWidth": 2.8, "strokeDash": [0.5, 6], "strokeCap": "round", "interpolate": "monotone"}, "encoding": {"detail": {"field": "k"}}},
    {"transform": [{"filter": "datum.k=='Before'||datum.k=='After'"}], "mark": {"type": "line", "color": "black", "strokeWidth": 1.8}, "encoding": {"detail": {"field": "k"}}},
    {"transform": [{"filter": "datum.k=='Before'||datum.k=='After'"}], "mark": {"type": "square", "size": 95, "filled": true, "stroke": "black", "strokeWidth": 1.2, "opacity": 1},
     "encoding": {"fill": {"field": "k", "type": "nominal", "scale": {"domain": ["Before","After"], "range": ["black","white"]}}}}
   ]}
 ]}
]
}
